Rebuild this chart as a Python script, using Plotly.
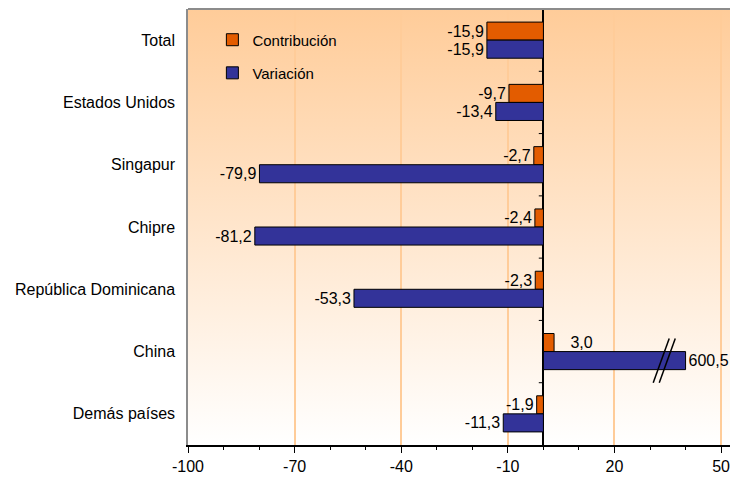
import base64

import plotly.graph_objects as go

# datos (%)
categorias = ["Total", "Estados Unidos", "Singapur", "Chipre",
              "República Dominicana", "China", "Demás países"]
contribucion = [-15.9, -9.7, -2.7, -2.4, -2.3, 3.0, -1.9]
variacion = [-15.9, -13.4, -79.9, -81.2, -53.3, 600.5, -11.3]
ticks_x = [-100, -70, -40, -10, 20, 50]

CORTE = 40  # la barra de China se corta aquí (eje con quiebre)
NARANJA, AZUL = "#E35C00", "#333399"
FUENTE = "Arial, Liberation Sans, sans-serif"


def etiqueta(v, relleno=""):
    return (relleno if v > 0 else "") + f"{v:.1f}".replace(".", ",")


# fondo degradado (durazno arriba, blanco abajo) como svg embebido
svg = ('<svg xmlns="http://www.w3.org/2000/svg" width="10" height="100" '
       'preserveAspectRatio="none"><defs><linearGradient id="g" x1="0" y1="0" '
       'x2="0" y2="1"><stop offset="0" stop-color="#FFCC99"/>'
       '<stop offset="1" stop-color="#FFFFFF"/></linearGradient></defs>'
       '<rect width="10" height="100" fill="url(#g)"/></svg>')
fondo = "data:image/svg+xml;base64," + base64.b64encode(svg.encode()).decode()

fig = go.Figure()
fig.add_trace(go.Bar(
    y=categorias, x=contribucion, orientation="h", name="Contribución",
    marker=dict(color=NARANJA, line=dict(color="black", width=1)),
    text=[etiqueta(v, "\u00a0\u00a0\u00a0") for v in contribucion],
    textposition="outside", textfont=dict(size=16, color="black"),
    cliponaxis=False, showlegend=True, legend="legend"))
fig.add_trace(go.Bar(
    y=categorias, x=[min(v, CORTE) for v in variacion], orientation="h",
    name="Variación",
    marker=dict(color=AZUL, line=dict(color="black", width=1)),
    text=[etiqueta(v) for v in variacion], textposition="outside",
    textfont=dict(size=16, color="black"), cliponaxis=False,
    showlegend=True, legend="legend2"))

# marcas del eje vertical sobre el cero, entre categorías
for k in range(len(categorias) - 1):
    fig.add_shape(type="line", xref="x", yref="y", x0=-1.3, x1=0,
                  y0=k + 0.5, y1=k + 0.5, line=dict(color="black", width=1))
# quiebre de la barra de China
i_china = categorias.index("China")
for dx in (0, 1.7):
    fig.add_shape(type="line", xref="x", yref="y",
                  x0=30.9 + dx, x1=35.4 + dx, y0=i_china + 0.5, y1=i_china - 0.21,
                  line=dict(color="black", width=1.5))
# borde superior gris
fig.add_shape(type="line", xref="paper", yref="paper", x0=0, x1=1, y0=1, y1=1,
              line=dict(color="#8C8C8C", width=2))

fig.add_layout_image(source=fondo, xref="paper", yref="paper", x=0, y=1,
                     sizex=1, sizey=1, sizing="stretch", layer="below",
                     xanchor="left", yanchor="top")

leyenda = dict(xanchor="left", yanchor="middle", bgcolor="rgba(0,0,0,0)",
               font=dict(size=15, color="black", family=FUENTE))
fig.update_layout(
    width=730, height=478,
    margin=dict(l=188, r=0, t=9, b=33),
    paper_bgcolor="white", plot_bgcolor="rgba(0,0,0,0)",
    font=dict(family=FUENTE, size=16, color="black"),
    barmode="group", bargap=0.42, bargroupgap=0, showlegend=True,
    legend=dict(x=0.045, y=0.929, **leyenda),
    legend2=dict(x=0.045, y=0.853, **leyenda),
    xaxis=dict(range=[-100, 52.5], tickvals=ticks_x, ticktext=[str(t) for t in ticks_x],
               ticks="outside", ticklen=6, tickcolor="black",
               ticklabeloverflow="allow",
               minor=dict(dtick=10, ticks="outside", ticklen=3, tickcolor="black",
                          showgrid=False),
               showline=True, linecolor="black", linewidth=1.5,
               showgrid=True, gridcolor="#FFCC99", gridwidth=1.5,
               zeroline=True, zerolinecolor="black", zerolinewidth=1.5,
               tickfont=dict(size=16)),
    yaxis=dict(autorange="reversed", showline=True, linecolor="#8C8C8C",
               linewidth=1.5, showgrid=False, ticks="", ticklabelstandoff=8,
               tickfont=dict(size=16)),
)

# sin el margen por defecto del body, la figura ocupa la ventana exacta
fig.write_html("out.html", config={"displayModeBar": False}, post_script=(
    "document.body.style.margin='0';document.body.style.overflow='hidden';"))
